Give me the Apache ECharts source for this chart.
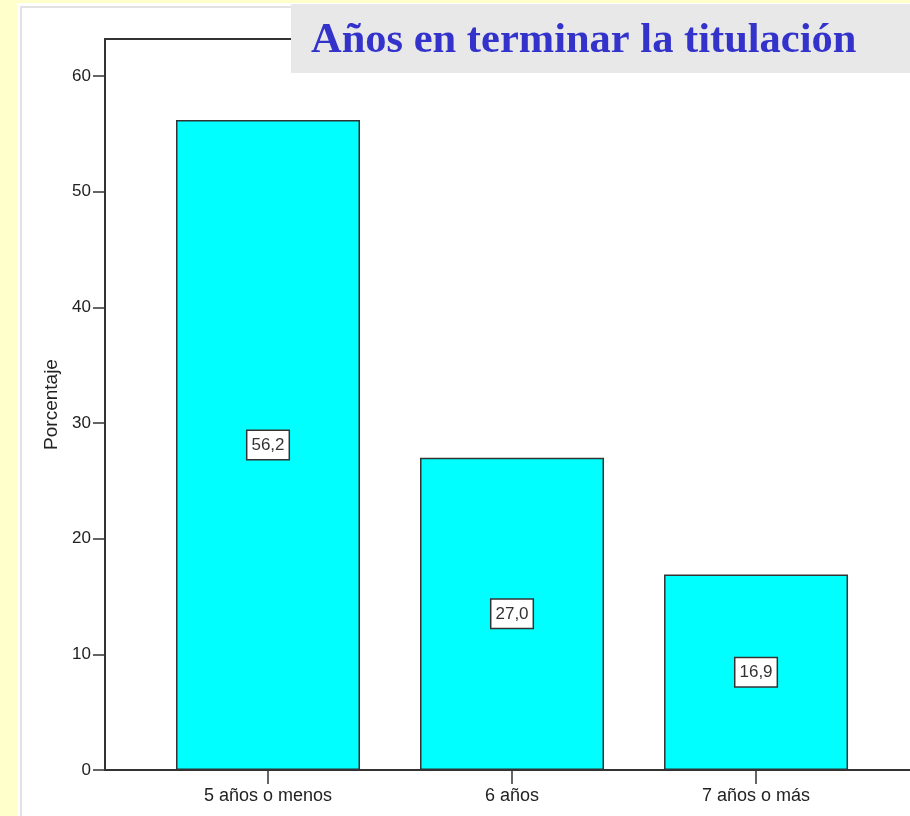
<!DOCTYPE html>
<html lang="es">

<head>
    <title>Años en terminar la titulación</title>
    <meta charset="UTF-8">
    <style type="text/css">
        html,
        body {
            margin: 0px;
            width: 910px;
            height: 816px;
            background: #ffffcc;
            overflow: hidden;
        }

        .panel {
            position: absolute;
            left: 17px;
            top: 3px;
            right: 0px;
            bottom: 0px;
            background: #ffffff;
        }

        .panel-edge {
            position: absolute;
            left: 20px;
            top: 6px;
            right: 0px;
            bottom: 0px;
            border-left: 2px solid #e2e2e2;
            border-top: 2px solid #e2e2e2;
        }

        #chart {
            position: absolute;
            left: 0px;
            top: 0px;
            width: 910px;
            height: 816px;
        }
    </style>
    <script type="text/javascript" src="https://cdn.jsdelivr.net/npm/echarts@6/dist/echarts.min.js"></script>
</head>

<body>
    <div class="panel"></div>
    <div class="panel-edge"></div>
    <div id="chart"></div>
</body>

<script type="text/javascript">
    var categories = ['5 años o menos', '6 años', '7 años o más'];
    var values = [56.2, 27.0, 16.9];
    var positions = [0, 1, 2];

    var chart = echarts.init(document.getElementById('chart'));

    var barData = positions.map(function (p, i) {
        return [p, values[i]];
    });

    var option = {
        animation: false,
        // grey box behind the title, drawn over the frame line
        graphic: [
            {
                type: 'rect',
                z: 100,
                shape: { x: 291, y: 4, width: 619, height: 69 },
                style: { fill: '#e8e8e8' }
            }
        ],
        title: {
            text: 'Años en terminar la titulación',
            left: 311,
            top: 17,
            padding: 0,
            z: 101,
            textStyle: {
                fontFamily: 'Liberation Serif',
                fontWeight: 'bold',
                fontSize: 42.5,
                lineHeight: 48,
                color: '#3333cc'
            }
        },
        grid: {
            left: 105,
            top: 39,
            right: 0,
            bottom: 46
        },
        xAxis: [
            {
                type: 'value',
                min: -0.668,
                max: 2.631,
                position: 'bottom',
                splitLine: { show: false },
                axisLine: { onZero: false, lineStyle: { color: '#333', width: 2 } },
                axisTick: {
                    customValues: positions,
                    length: 14,
                    lineStyle: { color: '#333', width: 1.5 }
                },
                axisLabel: {
                    customValues: positions,
                    margin: 17,
                    fontFamily: 'Arial',
                    fontSize: 18,
                    color: '#222',
                    formatter: function (v) {
                        return categories[Math.round(v)];
                    }
                }
            },
            {
                type: 'value',
                min: -0.668,
                max: 2.631,
                position: 'top',
                splitLine: { show: false },
                axisLine: { show: true, onZero: false, lineStyle: { color: '#333', width: 2 } },
                axisTick: { show: false },
                axisLabel: { show: false }
            }
        ],
        yAxis: {
            type: 'value',
            min: 0,
            max: 63.2,
            interval: 10,
            name: 'Porcentaje',
            nameLocation: 'middle',
            nameGap: 37,
            nameTextStyle: {
                fontFamily: 'Arial',
                fontSize: 19,
                color: '#222'
            },
            splitLine: { show: false },
            axisLine: { show: true, onZero: false, lineStyle: { color: '#333', width: 2 } },
            axisTick: { length: 12, lineStyle: { color: '#333', width: 1.5 } },
            axisLabel: {
                margin: 14,
                showMaxLabel: false,
                fontFamily: 'Arial',
                fontSize: 17,
                color: '#222'
            }
        },
        series: [
            {
                type: 'bar',
                data: barData,
                barWidth: 184,
                itemStyle: {
                    color: '#00ffff',
                    borderColor: '#333',
                    borderWidth: 1.5
                },
                label: {
                    show: true,
                    position: 'inside',
                    fontFamily: 'Arial',
                    fontSize: 17,
                    color: '#333',
                    backgroundColor: '#ffffff',
                    borderColor: '#333',
                    borderWidth: 1.5,
                    padding: [6, 4, 5, 4],
                    formatter: function (p) {
                        return p.value[1].toFixed(1).replace('.', ',');
                    }
                }
            }
        ]
    };

    chart.setOption(option);
</script>

</html>
